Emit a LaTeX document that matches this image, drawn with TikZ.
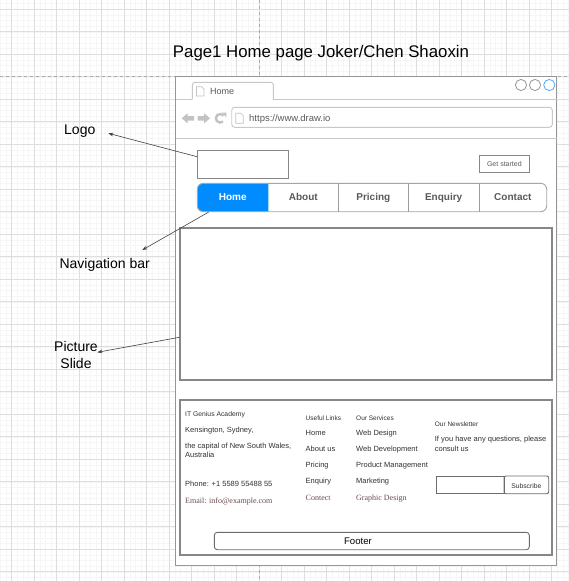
\documentclass[tikz,border=0pt]{standalone}
\usepackage{fontspec}
\setmainfont{Liberation Sans}
\newfontfamily\seriffam{Liberation Serif}
\usetikzlibrary{arrows.meta}

\definecolor{gridminor}{RGB}{246,246,246}
\definecolor{gridmajor}{RGB}{222,222,222}
\definecolor{pagedash}{RGB}{170,170,170}
\definecolor{frame}{RGB}{150,150,150}
\definecolor{chrome}{RGB}{200,200,200}
\definecolor{icon}{RGB}{195,195,195}
\definecolor{boxline}{RGB}{135,135,135}
\definecolor{navblue}{RGB}{0,140,255}
\definecolor{navtext}{RGB}{90,90,90}
\definecolor{bodytext}{RGB}{50,50,50}
\definecolor{serifbrown}{RGB}{105,75,75}
\definecolor{winblue}{RGB}{80,170,255}

\newcommand\pxsize[1]{\fontsize{#1}{#1}\selectfont}

\tikzset{
  x=1pt, y=-1pt,
  txt/.style={inner sep=0pt, anchor=base west, text=bodytext},
  navlabel/.style={inner sep=0pt, anchor=base, font=\pxsize{10}\bfseries, text=navtext},
  annot/.style={inner sep=0pt, font=\pxsize{14}, text=black},
  pointer/.style={draw=black!75, line width=0.6pt, -{Stealth[length=5pt,width=3.6pt]}},
  panel/.style={draw=boxline, line width=1.25pt, fill=white, inner sep=0pt},
}

\begin{document}
\begin{tikzpicture}
\useasboundingbox (0,0) rectangle (569,581);
\fill[white] (0,0) rectangle (569,581);

% background grid
\foreach \i in {0,...,101}
  \draw[gridminor, line width=0.5pt] (0.45+\i*5.625,0) -- (0.45+\i*5.625,581);
\foreach \i in {0,...,102}
  \draw[gridminor, line width=0.5pt] (0,3.675+\i*5.625) -- (569,3.675+\i*5.625);
\foreach \i in {0,...,24}
  \draw[gridmajor, line width=0.8pt] (11.7+\i*22.5,0) -- (11.7+\i*22.5,581);
\foreach \i in {0,...,25}
  \draw[gridmajor, line width=0.8pt] (0,9.3+\i*22.5) -- (569,9.3+\i*22.5);
% page break lines
\draw[pagedash, line width=0.9pt, dash pattern=on 3pt off 3pt] (259.2,0) -- (259.2,581);
\draw[pagedash, line width=0.9pt, dash pattern=on 3pt off 3pt] (0,76.7) -- (569,76.7);

% title
\node[inner sep=0pt, anchor=base, font=\pxsize{16.8}] (title) at (321,57.3) {Page1 Home page Joker/Chen Shaoxin};

% browser window
\node[draw=frame, fill=white, line width=0.9pt, inner sep=0pt, minimum width=381pt, minimum height=489pt] (window) at (366.2,321.2) {};
\draw[chrome, line width=0.9pt, rounded corners=2.5pt] (192.3,99.3) -- (192.3,82.3) -- (273.3,82.3) -- (273.3,99.3);
\draw[chrome, line width=0.9pt] (175.7,99.3) -- (192.3,99.3) (273.3,99.3) -- (556.7,99.3);
\draw[chrome, line width=0.9pt] (175.7,138.3) -- (556.7,138.3);
% tab page icon and title
\draw[icon, line width=0.7pt] (196.5,86.7) -- (201.5,86.7) -- (204,89.2) -- (204,96) -- (196.5,96) -- cycle;
\node[txt, font=\pxsize{9}, text=navtext] (tabtitle) at (210,94) {Home};
% window buttons
\draw[frame, line width=0.8pt] (521,85) circle (5.6pt);
\draw[frame, line width=0.8pt] (535,85) circle (5.6pt);
\draw[winblue, line width=0.8pt] (549.3,85) circle (5.6pt);
% navigation icons
\fill[icon] (181.7,118.3) -- (187.5,113.3) -- (187.5,116) -- (194,116) -- (194,120.6) -- (187.5,120.6) -- (187.5,123.3) -- cycle;
\fill[icon] (210,118.3) -- (204.2,113.3) -- (204.2,116) -- (197.7,116) -- (197.7,120.6) -- (204.2,120.6) -- (204.2,123.3) -- cycle;
\draw[icon, line width=2.4pt] (220.2,118.3) ++(50:4.3) arc[start angle=50, end angle=320, radius=4.3];
\fill[icon] (221.6,112.6) -- (226.4,112.6) -- (226.4,117.4) -- cycle;
% address bar
\draw[chrome, line width=0.9pt, rounded corners=3pt] (231.7,107.3) rectangle (552.3,127.3);
\draw[icon, line width=0.7pt] (235.8,113.3) -- (240.8,113.3) -- (243.3,115.8) -- (243.3,123.3) -- (235.8,123.3) -- cycle;
\node[txt, font=\pxsize{9.5}, text=navtext] (url) at (249,121) {https://www.draw.io};

% header: logo and call to action
\node[draw=boxline, line width=1pt, inner sep=0pt, minimum width=90.7pt, minimum height=28.3pt] (logo) at (242.65,164.15) {};
\node[draw=boxline, line width=1pt, inner sep=0pt, minimum width=50.7pt, minimum height=17pt] (getstarted) at (504.35,163.8) {};
\node[inner sep=0pt, anchor=base, font=\pxsize{7}, text=navtext] (getlabel) at (504.35,166) {Get started};

% navigation bar
\fill[navblue] (268.3,183.3) [rounded corners=6pt] -- (197.3,183.3) -- (197.3,211.7) [sharp corners] -- (268.3,211.7) -- cycle;
\node[draw=icon!85!black, line width=0.9pt, rounded corners=6pt, inner sep=0pt, minimum width=349.4pt, minimum height=28.4pt] (nav) at (372,197.5) {};
\draw[icon!80!black, line width=0.9pt] (338.3,183.3) -- (338.3,211.7) (408.3,183.3) -- (408.3,211.7) (479,183.3) -- (479,211.7);
\node[navlabel, text=white] (navhome) at (232.8,200.3) {Home};
\node[navlabel] (navabout) at (303.3,200.3) {About};
\node[navlabel] (navpricing) at (373.3,200.3) {Pricing};
\node[navlabel] (navenquiry) at (443.65,200.3) {Enquiry};
\node[navlabel] (navcontact) at (512.85,200.3) {Contact};

% picture slider
\node[panel, minimum width=372pt, minimum height=152pt] (pic) at (366,304) {};

% footer panel
\node[panel, minimum width=372pt, minimum height=155pt] (footer) at (366,477.5) {};
\node[txt, font=\pxsize{6.8}] (f1) at (185,416.5) {IT Genius Academy};
\node[txt, font=\pxsize{7.5}] (f2) at (185,432) {Kensington, Sydney,};
\node[txt, font=\pxsize{7.5}] (f3) at (185,448) {the capital of New South Wales,};
\node[txt, font=\pxsize{7.5}] (f4) at (185,457) {Australia};
\node[txt, font=\pxsize{7.5}] (f5) at (185,486) {Phone: +1 5589 55488 55};
\node[txt, font=\seriffam\pxsize{8}, text=serifbrown] (f6) at (185,503) {Email: info@example.com};

\node[txt, font=\pxsize{6.5}] (l0) at (305.5,420) {Useful Links};
\node[txt, font=\pxsize{7.5}] (l1) at (305.5,435.7) {Home};
\node[txt, font=\pxsize{7.5}] (l2) at (305.5,451) {About us};
\node[txt, font=\pxsize{7.5}] (l3) at (305.5,467) {Pricing};
\node[txt, font=\pxsize{7.5}] (l4) at (305.5,483) {Enquiry};
\node[txt, font=\seriffam\pxsize{8}, text=serifbrown] (l5) at (305.5,500) {Contect};

\node[txt, font=\pxsize{6.5}] (s0) at (356,420) {Our Services};
\node[txt, font=\pxsize{7.5}] (s1) at (356,435.7) {Web Design};
\node[txt, font=\pxsize{7.5}] (s2) at (356,451) {Web Development};
\node[txt, font=\pxsize{7.5}] (s3) at (356,467) {Product Management};
\node[txt, font=\pxsize{7.5}] (s4) at (356,483) {Marketing};
\node[txt, font=\seriffam\pxsize{8}, text=serifbrown] (s5) at (356,500) {Graphic Design};

\node[txt, font=\pxsize{6.5}] (n0) at (434.7,426.7) {Our Newsletter};
\node[txt, font=\pxsize{7.5}] (n1) at (434.7,441.7) {If you have any questions, please};
\node[txt, font=\pxsize{7.5}] (n2) at (434.7,451) {consult us};
\node[draw=boxline!80!black, line width=0.9pt, inner sep=0pt, minimum width=68pt, minimum height=17.7pt] (email) at (470,484.85) {};
\node[draw=boxline!80!black, line width=0.9pt, rounded corners=2pt, inner sep=0pt, minimum width=44.7pt, minimum height=17.7pt] (subscribe) at (526.35,484.85) {};
\node[inner sep=0pt, anchor=base, font=\pxsize{6.75}, text=bodytext] (sublabel) at (526.35,488) {Subscribe};

\node[draw=boxline!80!black, line width=0.9pt, rounded corners=3pt, inner sep=0pt, minimum width=315pt, minimum height=17.4pt] (footerbar) at (371.8,541) {};
\node[inner sep=0pt, anchor=base, font=\pxsize{9.6}, text=black] (footerlabel) at (358,544) {Footer};

% annotations
\node[annot, anchor=base west] (logolabel) at (64,134.5) {Logo};
\node[annot, anchor=base west] (navlabeltext) at (59.3,268.5) {Navigation bar};
\node[annot, anchor=base, align=center] (piclabel) at (76,351.7) {Picture};
\node[annot, anchor=base] (piclabel2) at (76,368) {Slide};
\coordinate (logotip) at (108.3,133.3);
\coordinate (navtip) at (142.3,250);
\coordinate (pictip) at (97.3,352.3);
\draw[pointer] ([yshift=7.5pt]logo.west) -- (logotip);
\draw[pointer] ([xshift=11.7pt]nav.south west) -- (navtip);
\draw[pointer] ([yshift=-33.3pt]pic.west) -- (pictip);
\end{tikzpicture}
\end{document}
